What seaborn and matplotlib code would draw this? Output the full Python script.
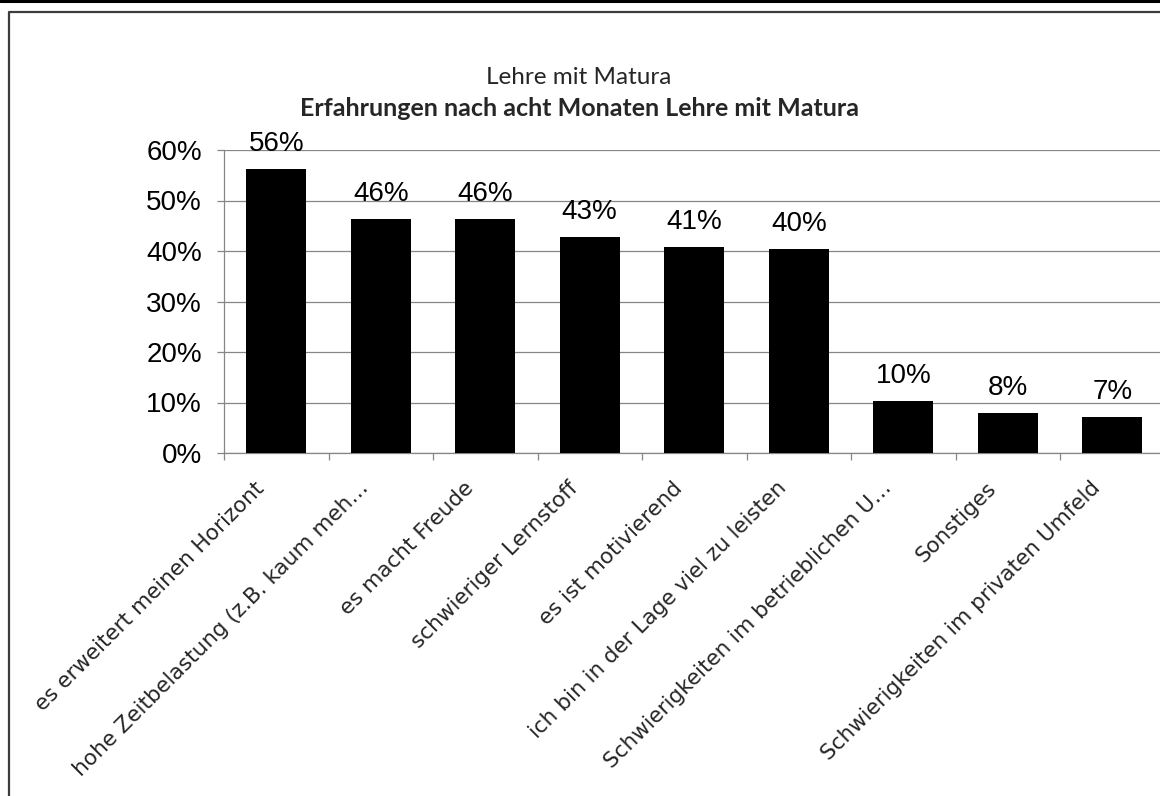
import matplotlib
matplotlib.use("Agg")
import matplotlib.pyplot as plt
import matplotlib.transforms as mtransforms
from matplotlib.lines import Line2D
from matplotlib.ticker import FuncFormatter, FixedLocator
import seaborn as sns
import pandas as pd

categories = [
    "es erweitert meinen Horizont",
    "hohe Zeitbelastung (z.B. kaum meh…",
    "es macht Freude",
    "schwieriger Lernstoff",
    "es ist motivierend",
    "ich bin in der Lage viel zu leisten",
    "Schwierigkeiten im betrieblichen U…",
    "Sonstiges",
    "Schwierigkeiten im privaten Umfeld",
]
values = [56.2, 46.3, 46.3, 42.8, 40.8, 40.4, 10.3, 7.9, 7.1]
value_labels = ["56%", "46%", "46%", "43%", "41%", "40%", "10%", "8%", "7%"]
ytick_values = [0, 10, 20, 30, 40, 50, 60]

title_top = "Lehre mit Matura"
title_main = "Erfahrungen nach acht Monaten Lehre mit Matura"

sns.set_style("white")
plt.rcParams["font.family"] = ["Liberation Sans", "DejaVu Sans"]

W, H = 1160, 796
fig = plt.figure(figsize=(W / 100, H / 100), dpi=100)
fig.patch.set_facecolor("white")

def fx(px):
    return px / W

def fy(py):
    return 1 - py / H

ax_left, ax_right, ax_top, ax_bottom = 224, 1164.5, 150, 453
ax = fig.add_axes([fx(ax_left), fy(ax_bottom), fx(ax_right - ax_left), (ax_bottom - ax_top) / H])
ax.set_facecolor("white")

df = pd.DataFrame({"cat": categories, "val": values})
sns.barplot(data=df, x="cat", y="val", color="black", width=0.575,
            saturation=1, ax=ax, zorder=3)
for p in ax.patches:
    p.set_edgecolor("black")
    p.set_linewidth(0)

ax.set_xlim(-0.5, len(categories) - 0.5)
ax.set_ylim(0, 60)
ax.set_xlabel("")
ax.set_ylabel("")

gridc = "#868686"
ax.yaxis.set_major_locator(FixedLocator(ytick_values))
ax.yaxis.set_major_formatter(FuncFormatter(lambda v, pos: f"{int(round(v))}%"))
ax.grid(axis="y", color=gridc, linewidth=0.9, zorder=0)
ax.grid(axis="x", visible=False)
for s in ["top", "right"]:
    ax.spines[s].set_visible(False)
for s in ["left", "bottom"]:
    ax.spines[s].set_color(gridc)
    ax.spines[s].set_linewidth(0.9)

ax.tick_params(axis="y", which="major", left=True, length=5, width=0.9, color=gridc,
               labelsize=20, pad=11, labelcolor="black")
ax.set_xticks(range(len(categories)))
ax.set_xticks([i - 0.5 for i in range(len(categories) + 1)], minor=True)
ax.tick_params(axis="x", which="minor", bottom=True, length=5, width=0.9, color=gridc)
ax.tick_params(axis="x", which="major", bottom=False, length=0, pad=0)
ax.set_xticklabels(categories, rotation=45, ha="right", va="center",
                   rotation_mode="anchor", fontsize=15.5, family="DejaVu Sans")
offset = mtransforms.ScaledTranslation(-15 / 100, -32 / 100, fig.dpi_scale_trans)
for lbl in ax.get_xticklabels():
    lbl.set_transform(lbl.get_transform() + offset)

for i, (v, t) in enumerate(zip(values, value_labels)):
    ax.annotate(t, xy=(i, v), xytext=(0, 13), textcoords="offset points",
                ha="center", va="baseline", fontsize=20, color="black", zorder=4)

fig.text(fx(579), fy(78), title_top, ha="center", va="center",
         fontsize=17.5, family=["Lato", "DejaVu Sans"])
fig.text(fx(579), fy(108), title_main, ha="center", va="center",
         fontsize=18, fontweight="bold", family=["Lato", "DejaVu Sans"])

# outer frame lines
fig.add_artist(Line2D([0, 1], [fy(1), fy(1)], transform=fig.transFigure,
                      color="black", linewidth=2.2))
fig.add_artist(Line2D([fx(9), fx(9), 1.0], [0.0, fy(12), fy(12)], transform=fig.transFigure,
                      color="#3c3c3c", linewidth=1.6))

fig.savefig("out.png", dpi=100, facecolor="white")
